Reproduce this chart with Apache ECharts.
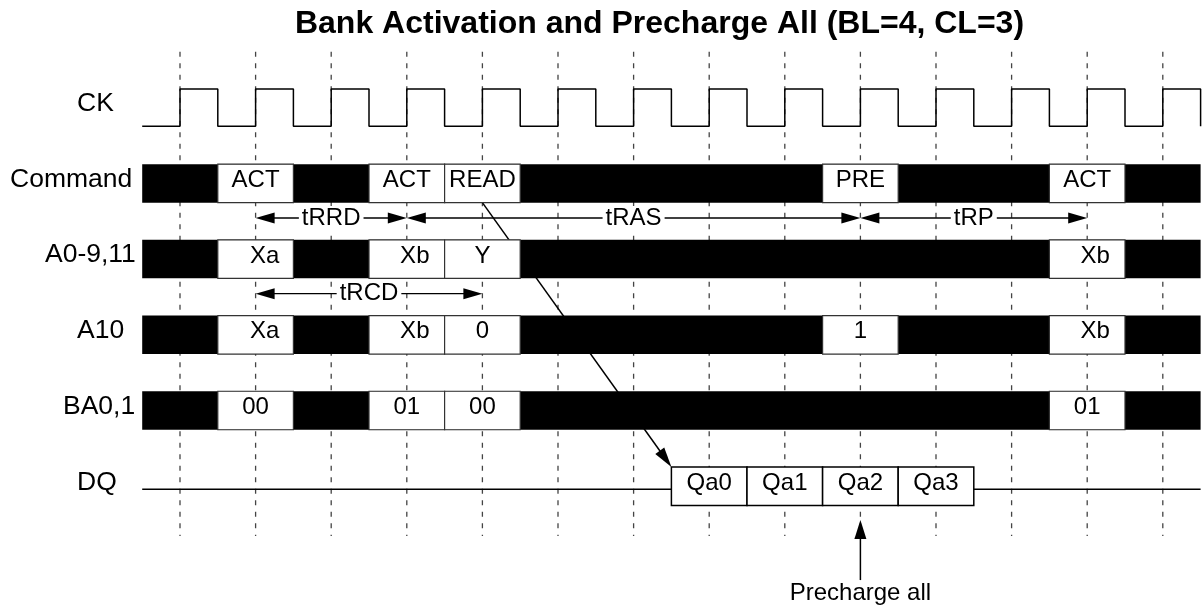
<!DOCTYPE html>
<html><head><meta charset="utf-8">
<script src="https://cdn.jsdelivr.net/npm/echarts@6/dist/echarts.min.js"></script>
<style>html,body{margin:0;padding:0;background:#fff}#c{width:1203px;height:608px}</style>
</head><body><div id="c"></div>
<script>
// ---------------- data ----------------
const titleText = 'Bank Activation and Precharge All (BL=4, CL=3)';
const rowNames = ['CK', 'Command', 'A0-9,11', 'A10', 'BA0,1', 'DQ'];
const clockEdges = [0, 1, 2, 3, 4, 5, 6, 7, 8, 9, 10, 11, 12, 13];
// clock level per half cycle, starting half a cycle before edge 0
const ckLevels = [0,1,0,1,0,1,0,1,0,1,0,1,0,1,0,1,0,1,0,1,0,1,0,1,0,1,0,1];
const commandBoxes = [[1, 'ACT'], [3, 'ACT'], [4, 'READ'], [9, 'PRE'], [12, 'ACT']];
const addrBoxes    = [[1, 'Xa'], [3, 'Xb'], [4, 'Y'], [12, 'Xb']];
const a10Boxes     = [[1, 'Xa'], [3, 'Xb'], [4, '0'], [9, '1'], [12, 'Xb']];
const baBoxes      = [[1, '00'], [3, '01'], [4, '00'], [12, '01']];
const dqBoxes      = [[7, 'Qa0'], [8, 'Qa1'], [9, 'Qa2'], [10, 'Qa3']];
// name, from edge, to edge, gap below row
const timings = [['tRRD', 1, 3, 1], ['tRAS', 3, 9, 1], ['tRP', 9, 12, 1], ['tRCD', 1, 4, 2]];
const readEdge = 4;
const prechargeEdge = 9;
const prechargeText = 'Precharge all';

// ---------------- layout / style ----------------
const FONT = '"Liberation Sans", Arial, Helvetica, sans-serif';
const X_MIN = -0.5, X_MAX = 13.5;
const HALF = 0.254;          // half bar height (row units)
const CK_AMP = 0.246;
const DASH_TOP = -0.74, DASH_BOT = 5.658;
const DQ_ROW = 5, DQ_LINE = 5.041;
const GAP_OFF = 0.457;       // timing arrow lane offset below a row
const labelX = [77, 10, 45, 77, 63, 77];
const textShift = {Xa: 9, Xb: 8};

const chart = echarts.init(document.getElementById('c'), null, {renderer: 'canvas'});

// clock points
const ckPoints = [];
ckLevels.forEach((lv, i) => {
  const x0 = X_MIN + i * 0.5, x1 = x0 + 0.5, y = lv ? -CK_AMP : CK_AMP;
  ckPoints.push([x0, y], [x1, y]);
});
ckPoints.push([X_MAX, CK_AMP]);

// bus rows
const busRows = [[1, commandBoxes], [2, addrBoxes], [3, a10Boxes], [4, baBoxes]];
const busData = [];
busRows.forEach(([row, boxes]) => {
  busData.push({value: [X_MIN, X_MAX, row], kind: 'bus', text: ''});
  boxes.forEach(([at, t]) => busData.push({value: [at - 0.5, at + 0.5, row], kind: 'box', text: t}));
});
const dqData = dqBoxes.map(([at, t]) => ({value: [at - 0.5, at + 0.5, DQ_ROW], text: t}));

function tri(tip, dir, len, half) {
  const bx = tip[0] - dir[0] * len, by = tip[1] - dir[1] * len;
  const nx = -dir[1], ny = dir[0];
  return [[tip[0], tip[1]], [bx + nx * half, by + ny * half], [bx - nx * half, by - ny * half]];
}

function boxEl(p0, p1, text, stroke, lw) {
  const rect = {x: p0[0], y: p0[1], width: p1[0] - p0[0], height: p1[1] - p0[1]};
  const cx = (p0[0] + p1[0]) / 2 + (textShift[text] || 0), cy = (p0[1] + p1[1]) / 2 - 3;
  return {type: 'group', children: [
    {type: 'rect', shape: rect, style: {fill: '#fff', stroke: stroke, lineWidth: lw}},
    {type: 'text', style: {text: text, x: cx, y: cy, align: 'center', verticalAlign: 'middle',
      fontSize: 24, fontFamily: FONT, fill: '#000'}}
  ]};
}

const option = {
  animation: false,
  backgroundColor: '#fff',
  grid: {left: 142.2, right: 2.4, top: 32, bottom: 46.1, containLabel: false},
  xAxis: {type: 'value', min: X_MIN, max: X_MAX, show: false},
  yAxis: {type: 'value', min: -1, max: 6, inverse: true, show: false},
  graphic: [{
    type: 'text', x: 659.5, y: 24, z: 10,
    style: {text: titleText, align: 'center', verticalAlign: 'middle',
      font: 'bold 32px "Liberation Sans", Arial, sans-serif', fill: '#000'}
  }],
  series: [
    { // dashed clock-edge lines
      type: 'custom', z: 1, clip: false,
      data: clockEdges.map(e => [e, DASH_TOP]),
      renderItem: (params, api) => {
        const a = api.coord([api.value(0), DASH_TOP]), b = api.coord([api.value(0), DASH_BOT]);
        return {type: 'line', shape: {x1: a[0], y1: a[1], x2: b[0], y2: b[1]},
          style: {stroke: '#444', lineWidth: 1.3, lineDash: [5, 6.5]}};
      }
    },
    { // read -> data arrow
      type: 'custom', z: 2, clip: false,
      data: [[readEdge, 1 + HALF, dqBoxes[0][0] - 0.5, DQ_ROW - HALF]],
      renderItem: (params, api) => {
        const a = api.coord([api.value(0), api.value(1)]);
        const b = api.coord([api.value(2), api.value(3)]);
        const dx = b[0] - a[0], dy = b[1] - a[1], L = Math.hypot(dx, dy);
        const dir = [dx / L, dy / L];
        return {type: 'group', children: [
          {type: 'line', shape: {x1: a[0], y1: a[1], x2: b[0] - dir[0] * 15, y2: b[1] - dir[1] * 15},
            style: {stroke: '#000', lineWidth: 1.5}},
          {type: 'polygon', shape: {points: tri(b, dir, 20, 5.5)}, style: {fill: '#000'}}
        ]};
      }
    },
    { // bus rows
      type: 'custom', z: 3, clip: false,
      data: busData.map(d => d.value),
      renderItem: (params, api) => {
        const d = busData[params.dataIndex];
        const p0 = api.coord([api.value(0), api.value(2) - HALF]);
        const p1 = api.coord([api.value(1), api.value(2) + HALF]);
        if (d.kind === 'bus') {
          return {type: 'rect', shape: {x: p0[0], y: p0[1], width: p1[0] - p0[0], height: p1[1] - p0[1]},
            style: {fill: '#000'}};
        }
        return boxEl(p0, p1, d.text, '#333', 1.2);
      }
    },
    { // clock
      type: 'line', z: 3, data: ckPoints, symbol: 'none', silent: true,
      lineStyle: {color: '#000', width: 1.5}
    },
    { // DQ idle line
      type: 'line', z: 2, data: [[X_MIN, DQ_LINE], [X_MAX, DQ_LINE]], symbol: 'none', silent: true,
      lineStyle: {color: '#000', width: 1.5}
    },
    { // DQ data boxes
      type: 'custom', z: 3, clip: false,
      data: dqData.map(d => d.value),
      renderItem: (params, api) => {
        const d = dqData[params.dataIndex];
        const p0 = api.coord([api.value(0), api.value(2) - HALF]);
        const p1 = api.coord([api.value(1), api.value(2) + HALF]);
        return boxEl(p0, p1, d.text, '#000', 1.5);
      }
    },
    { // timing arrows
      type: 'custom', z: 4, clip: false,
      data: timings.map(t => [t[1], t[2], t[3] + GAP_OFF]),
      renderItem: (params, api) => {
        const a = api.coord([api.value(0), api.value(2)]);
        const b = api.coord([api.value(1), api.value(2)]);
        const name = timings[params.dataIndex][0];
        return {type: 'group', children: [
          {type: 'line', shape: {x1: a[0] + 10, y1: a[1], x2: b[0] - 10, y2: b[1]}, style: {stroke: '#000', lineWidth: 1.3}},
          {type: 'polygon', shape: {points: tri(a, [-1, 0], 19, 5.5)}, style: {fill: '#000'}},
          {type: 'polygon', shape: {points: tri(b, [1, 0], 19, 5.5)}, style: {fill: '#000'}},
          {type: 'text', style: {text: name, x: (a[0] + b[0]) / 2, y: a[1], align: 'center', verticalAlign: 'middle',
            fontSize: 24, fontFamily: FONT, fill: '#000', backgroundColor: '#fff', padding: [0, 3]}}
        ]};
      }
    },
    { // precharge all marker
      type: 'custom', z: 4, clip: false,
      data: [[prechargeEdge, 5.447, 6.24, 6.42]],
      renderItem: (params, api) => {
        const tip = api.coord([api.value(0), api.value(1)]);
        const tail = api.coord([api.value(0), api.value(2)]);
        const txt = api.coord([api.value(0), api.value(3)]);
        return {type: 'group', children: [
          {type: 'line', shape: {x1: tail[0], y1: tail[1], x2: tip[0], y2: tip[1] + 15}, style: {stroke: '#000', lineWidth: 1.5}},
          {type: 'polygon', shape: {points: tri(tip, [0, -1], 19, 6)}, style: {fill: '#000'}},
          {type: 'text', style: {text: prechargeText, x: txt[0], y: txt[1], align: 'center', verticalAlign: 'middle',
            fontSize: 24, fontFamily: FONT, fill: '#000'}}
        ]};
      }
    },
    { // row labels
      type: 'custom', z: 5, clip: false,
      data: rowNames.map((n, i) => [X_MIN, i]),
      renderItem: (params, api) => {
        const p = api.coord([api.value(0), api.value(1)]);
        return {type: 'text', style: {text: rowNames[params.dataIndex], x: labelX[params.dataIndex], y: p[1] - 4,
          align: 'left', verticalAlign: 'middle', fontSize: 26.5, fontFamily: FONT, fill: '#000'}};
      }
    }
  ]
};
chart.setOption(option);
</script>
</body></html>
